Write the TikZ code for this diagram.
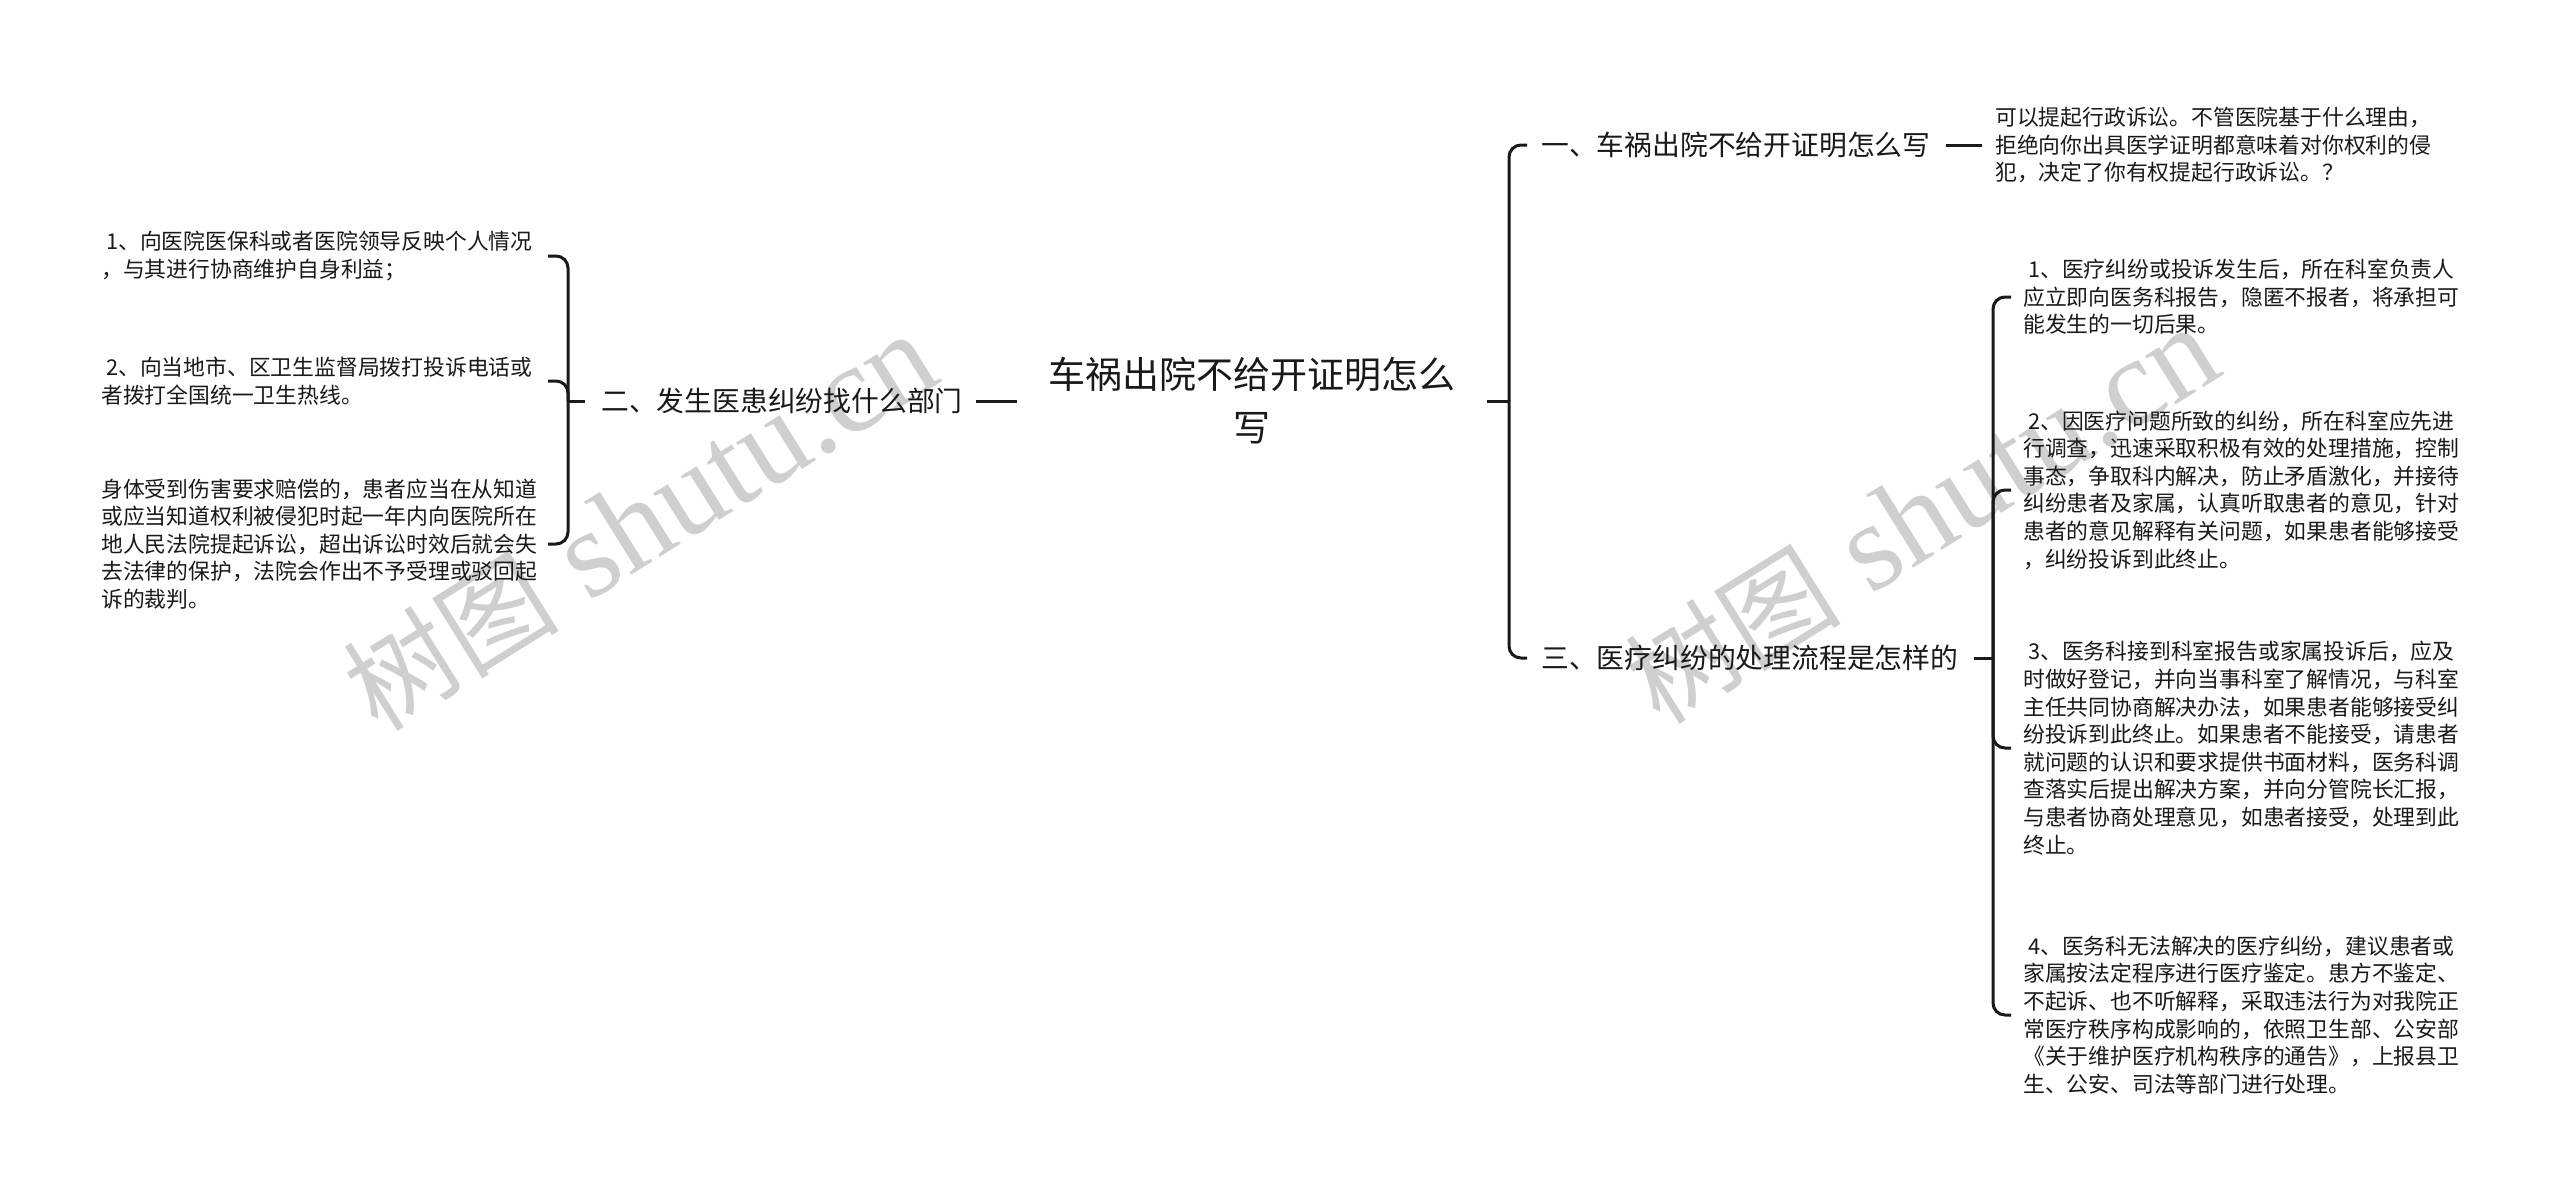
\documentclass[tikz,border=0pt]{standalone}
\usepackage{fontspec}
\setmainfont{Liberation Serif}
\newfontfamily\cjk{Noto Sans CJK SC}
\begin{document}
\begin{tikzpicture}[x=1pt,y=-1pt,
  leaf/.style={anchor=west, inner sep=0pt, align=left, text=black!90, font=\cjk\fontsize{21.8}{27.6}\selectfont},
  topic/.style={anchor=west, inner sep=0pt, text=black!90, font=\cjk\fontsize{27.8}{34}\selectfont},
  central/.style={inner sep=0pt, align=center, text=black!90, font=\cjk\fontsize{37}{53}\selectfont},
  conn/.style={line width=3pt, draw=black!90, rounded corners=12pt},
  wm/.style={rotate=32, text=gray!38, inner sep=0pt}]
\useasboundingbox[fill=white] (0,0) rectangle (2560,1203);
% watermarks
\node[wm] (w1) at (640,522) {{\cjk\fontsize{108}{108}\selectfont 树图}{\fontsize{125}{125}\selectfont\ shutu.cn}};
\node[wm] (w2) at (1922,515) {{\cjk\fontsize{108}{108}\selectfont 树图}{\fontsize{125}{125}\selectfont\ shutu.cn}};
% central
\node[central] (c) at (1252,401) {车祸出院不给开证明怎么\\写};
% topics
\node[topic] (t2) at (601,401) {二、发生医患纠纷找什么部门};
\node[topic] (t1) at (1541,145) {一、车祸出院不给开证明怎么写};
\node[topic] (t3) at (1541,658) {三、医疗纠纷的处理流程是怎样的};
% left leaves
\node[leaf] (l1) at (101,256) {\hspace{5pt}1、向医院医保科或者医院领导反映个人情况\\，与其进行协商维护自身利益；};
\node[leaf] (l2) at (101,381) {\hspace{5pt}2、向当地市、区卫生监督局拨打投诉电话或\\者拨打全国统一卫生热线。};
\node[leaf] (l3) at (101,544) {身体受到伤害要求赔偿的，患者应当在从知道\\或应当知道权利被侵犯时起一年内向医院所在\\地人民法院提起诉讼，超出诉讼时效后就会失\\去法律的保护，法院会作出不予受理或驳回起\\诉的裁判。};
% right leaves
\node[leaf] (r0) at (1995,145) {可以提起行政诉讼。不管医院基于什么理由，\\拒绝向你出具医学证明都意味着对你权利的侵\\犯，决定了你有权提起行政诉讼。？};
\node[leaf] (r1) at (2023,297) {\hspace{5pt}1、医疗纠纷或投诉发生后，所在科室负责人\\应立即向医务科报告，隐匿不报者，将承担可\\能发生的一切后果。};
\node[leaf] (r2) at (2023,490) {\hspace{5pt}2、因医疗问题所致的纠纷，所在科室应先进\\行调查，迅速采取积极有效的处理措施，控制\\事态，争取科内解决，防止矛盾激化，并接待\\纠纷患者及家属，认真听取患者的意见，针对\\患者的意见解释有关问题，如果患者能够接受\\，纠纷投诉到此终止。};
\node[leaf] (r3) at (2023,748) {\hspace{5pt}3、医务科接到科室报告或家属投诉后，应及\\时做好登记，并向当事科室了解情况，与科室\\主任共同协商解决办法，如果患者能够接受纠\\纷投诉到此终止。如果患者不能接受，请患者\\就问题的认识和要求提供书面材料，医务科调\\查落实后提出解决方案，并向分管院长汇报，\\与患者协商处理意见，如患者接受，处理到此\\终止。};
\node[leaf] (r4) at (2023,1015) {\hspace{5pt}4、医务科无法解决的医疗纠纷，建议患者或\\家属按法定程序进行医疗鉴定。患方不鉴定、\\不起诉、也不听解释，采取违法行为对我院正\\常医疗秩序构成影响的，依照卫生部、公安部\\《关于维护医疗机构秩序的通告》，上报县卫\\生、公安、司法等部门进行处理。};
% junction coordinates
\coordinate (jl) at (568,401);
\coordinate (bl) at (548,0);
\coordinate (jr) at (1509,401);
\coordinate (j3) at (1993,658);
% connectors: central
\draw[conn] ([xshift=-31pt]c.west) -- ([xshift=13pt]t2.east);
\draw[conn] ([xshift=31pt]c.east) -- (jr);
% left bracket
\draw[conn] ([xshift=-16pt]t2.west) -- (jl);
\draw[conn] (jl) |- (l1.west -| bl);
\draw[conn] (jl) |- (l2.west -| bl);
\draw[conn] (jl) |- (l3.west -| bl);
% right main bracket
\draw[conn] (jr) |- ([xshift=-14pt]t1.west);
\draw[conn] (jr) |- ([xshift=-14pt]t3.west);
% topic 1 to its text
\draw[conn] ([xshift=15pt]t1.east) -- ([xshift=-13pt]r0.west);
% topic 3 bracket
\draw[conn] ([xshift=16pt]t3.east) -- (j3);
\draw[conn] (j3) |- ([xshift=-12pt]r1.west);
\draw[conn] (j3) |- ([xshift=-12pt]r2.west);
\draw[conn] (j3) |- ([xshift=-12pt]r3.west);
\draw[conn] (j3) |- ([xshift=-12pt]r4.west);
\end{tikzpicture}
\end{document}
